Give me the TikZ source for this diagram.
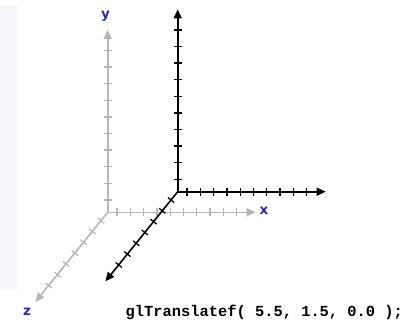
\documentclass[tikz,border=0pt]{standalone}
\usepackage{fontspec}
\usetikzlibrary{arrows.meta, calc}
\usepackage{xcolor}
\definecolor{axisgray}{HTML}{B6B6B6}
\definecolor{axisblue}{HTML}{2A2AA6}
\definecolor{edgebg}{HTML}{F7F8FB}
\newfontfamily\labelfont{DejaVu Sans}
\newfontfamily\codefont{Liberation Mono}

\begin{document}
\begin{tikzpicture}[
    x=1pt, y=-1pt,
    axis/.style={line width=1.6pt, -{Triangle[length=9pt, width=8pt]}},
    tick/.style={line width=1.3pt},
    lbl/.style={font=\labelfont\bfseries\fontsize{13.5}{14}\selectfont, text=axisblue},
    code/.style={font=\codefont\bfseries\fontsize{15.4}{16}\selectfont, anchor=base west, inner sep=0pt}
]
    \useasboundingbox (0,0) rectangle (403,321);
    \fill[edgebg] (0,5) rectangle (18,290);

    % original axes (gray), then translated axes (black)
    \foreach \p/\col/\ox/\oy in {g/axisgray/107.7/212.3, b/black/177.7/191.7} {
        \coordinate (\p o) at (\ox,\oy);
        \coordinate (\p x) at ($(\p o)+(148,0)$);
        \coordinate (\p y) at ($(\p o)+(0,-182.3)$);
        \coordinate (\p z) at ($(\p o)+(-72.3,89.6)$);
        \foreach \k in {0,...,9} {
            \draw[tick, \col] ($(\p o)+(9.3+13.3*\k,-4)$) -- ++(0,8);
            \draw[tick, \col] ($(\p o)+(-4,-12.4-16.6*\k)$) -- ++(8,0);
        }
        \foreach \k in {0,...,6} {
            \draw[tick, \col] ($(\p o)+({-0.627*(10.7+13.9*\k)+3.1},{0.778*(10.7+13.9*\k)+2.5})$) -- ++(-6.2,-5);
        }
        \draw[axis, \col] (\p o) -- (\p x);
        \draw[axis, \col] (\p o) -- (\p y);
        \draw[axis, \col] (\p o) -- (\p z);
    }

    \node[lbl] (ylbl) at (105.5,16) {y};
    \node[lbl] (xlbl) at (264,211) {x};
    \node[lbl] (zlbl) at (27,312) {z};
    \node[code] (call) at (125.5,316) {glTranslatef( 5.5, 1.5, 0.0 );};
\end{tikzpicture}
\end{document}
